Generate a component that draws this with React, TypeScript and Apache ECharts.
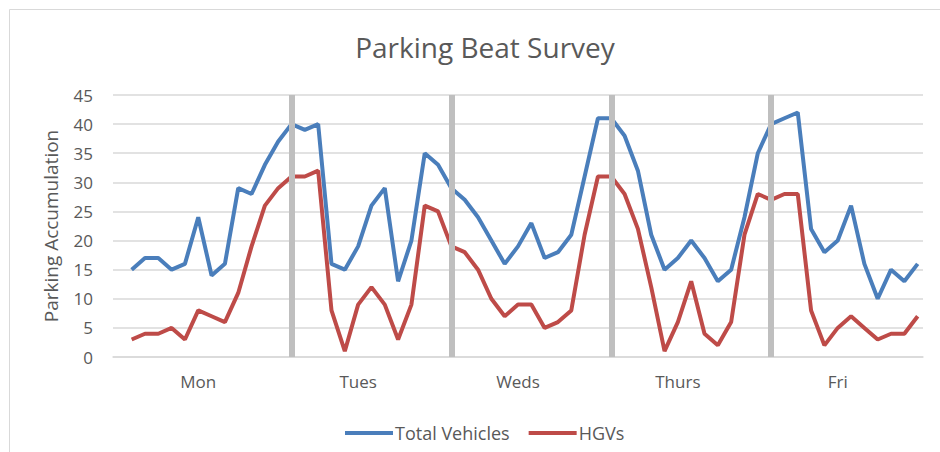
import React, { useEffect, useRef } from "react";
import * as echarts from "echarts";

const days = ["Mon", "Tues", "Weds", "Thurs", "Fri"];
const slotsPerDay = 12;

const totalVehicles = [
  15, 17, 17, 15, 16, 24, 14, 16, 29, 28, 33, 37,
  40, 39, 40, 16, 15, 19, 26, 29, 13, 20, 35, 33,
  29, 27, 24, 20, 16, 19, 23, 17, 18, 21, 31, 41,
  41, 38, 32, 21, 15, 17, 20, 17, 13, 15, 24, 35,
  40, 41, 42, 22, 18, 20, 26, 16, 10, 15, 13, 16,
];

const hgvs = [
  3, 4, 4, 5, 3, 8, 7, 6, 11, 19, 26, 29,
  31, 31, 32, 8, 1, 9, 12, 9, 3, 9, 26, 25,
  19, 18, 15, 10, 7, 9, 9, 5, 6, 8, 21, 31,
  31, 28, 22, 12, 1, 6, 13, 4, 2, 6, 21, 28,
  27, 28, 28, 8, 2, 5, 7, 5, 3, 4, 4, 7,
];

const yMin = 0;
const yMax = 45;
const yInterval = 5;

const FONT = "'Open Sans', sans-serif";
const TEXT = "#595959";

export default function App() {
  const ref = useRef<HTMLDivElement>(null);

  useEffect(() => {
    if (!ref.current) return;
    const chart = echarts.init(ref.current, undefined, { renderer: "svg" });
    const labelPositions = days.map((_, d) => d * slotsPerDay + 5);
    const separators = days.slice(1).map((_, d) => ({ xAxis: (d + 1) * slotsPerDay }));
    chart.setOption({
      animation: false,
      backgroundColor: "#ffffff",
      graphic: [
        {
          type: "rect",
          shape: { x: 9.5, y: 9.5, width: 960, height: 470 },
          style: { fill: "none", stroke: "#d9d9d9", lineWidth: 1 },
          silent: true,
        },
      ],
      title: {
        text: "Parking Beat Survey",
        left: 480,
        top: 28,
        textAlign: "center",
        textStyle: { fontFamily: FONT, fontSize: 28, fontWeight: "normal", color: TEXT },
      },
      legend: {
        data: ["Total Vehicles", "HGVs"],
        left: 340,
        top: 419,
        icon: "rect",
        itemWidth: 48,
        itemHeight: 4,
        itemGap: 19,
        textStyle: { fontFamily: FONT, fontSize: 18, color: TEXT, padding: [0, 0, 0, -3] },
      },
      grid: { left: 113, right: 17, top: 95, bottom: 95 },
      xAxis: {
        type: "value",
        min: -1.4,
        max: 59.4,
        splitLine: { show: false },
        axisTick: { show: false },
        axisLine: { show: true, lineStyle: { color: "#d9d9d9", width: 1.5 } },
        axisLabel: {
          customValues: labelPositions,
          formatter: (v: number) => days[Math.round((v - 5) / slotsPerDay)] ?? "",
          fontFamily: FONT,
          fontSize: 17,
          color: TEXT,
          margin: 16,
        },
      },
      yAxis: {
        type: "value",
        min: yMin,
        max: yMax,
        interval: yInterval,
        name: "Parking Accumulation",
        nameLocation: "middle",
        nameGap: 53,
        nameTextStyle: { fontFamily: FONT, fontSize: 19, color: TEXT },
        axisLine: { show: false },
        axisTick: { show: false },
        splitLine: { lineStyle: { color: "#d9d9d9", width: 1.5 } },
        axisLabel: { fontFamily: FONT, fontSize: 17, color: TEXT, margin: 20 },
      },
      series: [
        {
          name: "separators",
          type: "line",
          data: [],
          z: 1,
          markLine: {
            silent: true,
            symbol: "none",
            label: { show: false },
            lineStyle: { color: "#bfbfbf", width: 6, type: "solid" },
            data: separators,
          },
        },
        {
          name: "Total Vehicles",
          type: "line",
          z: 3,
          data: totalVehicles.map((v, i) => [i, v]),
          showSymbol: false,
          symbol: "none",
          color: "#4a7ebb",
          lineStyle: { color: "#4a7ebb", width: 4 },
        },
        {
          name: "HGVs",
          type: "line",
          z: 3,
          data: hgvs.map((v, i) => [i, v]),
          showSymbol: false,
          symbol: "none",
          color: "#be4b48",
          lineStyle: { color: "#be4b48", width: 4 },
        },
      ],
    });
    return () => chart.dispose();
  }, []);

  return (
    <div
      ref={ref}
      style={{ position: "absolute", left: 0, top: 0, width: 940, height: 452 }}
    />
  );
}
